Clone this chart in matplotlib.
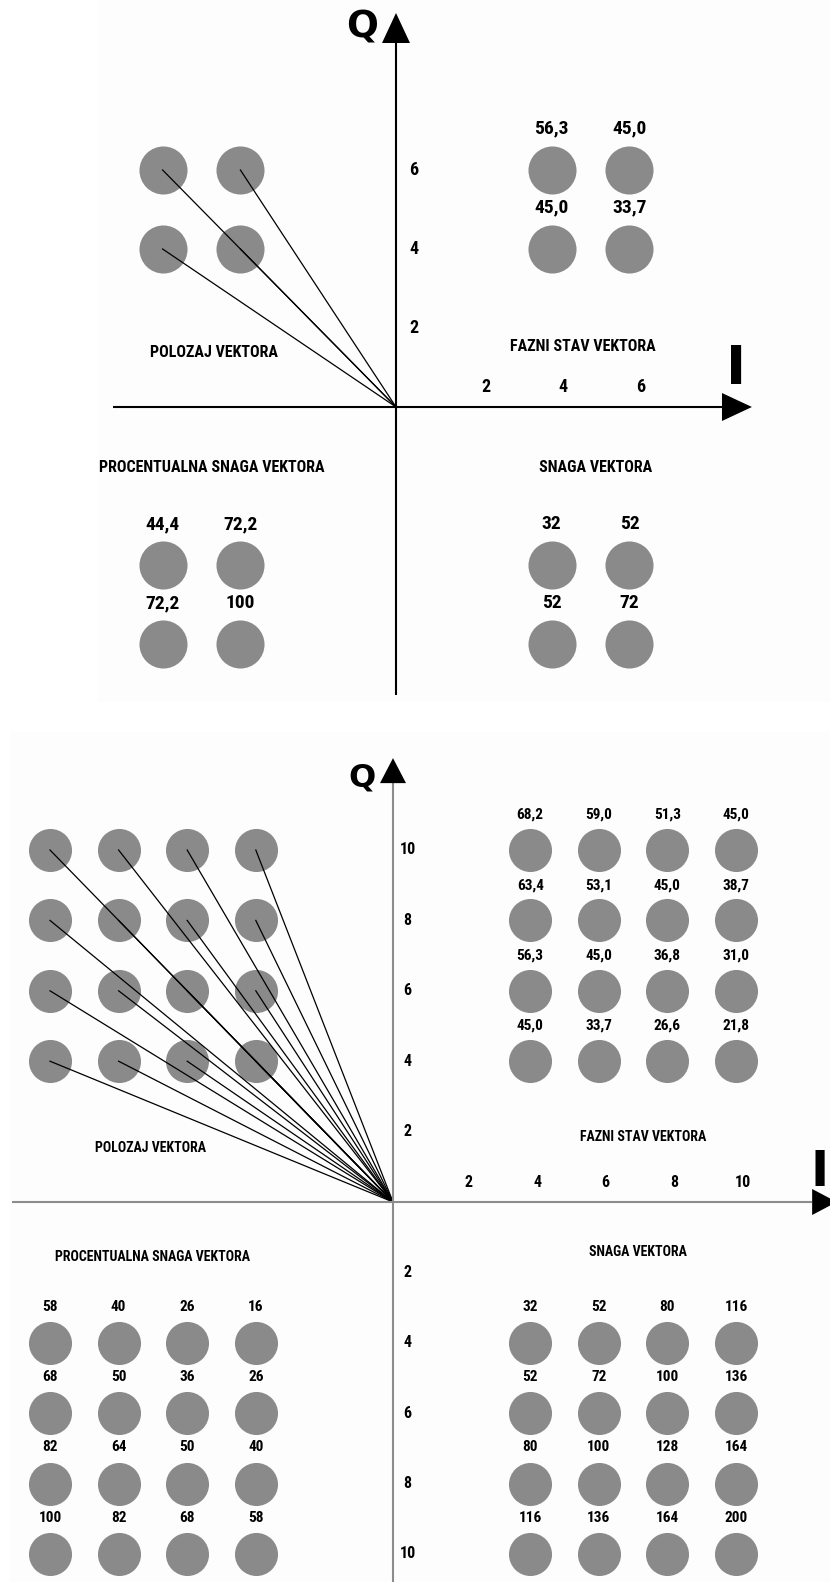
import matplotlib
matplotlib.use("Agg")
import matplotlib.pyplot as plt
from matplotlib.patches import Rectangle

COND = ['Liberation Sans Narrow', 'Roboto Condensed', 'DejaVu Sans Condensed',
        'Noto Sans Condensed', 'Open Sans Condensed', 'DejaVu Sans']
BOLD = ['DejaVu Sans']

# ---------------- data: panel 1 (2 x 2) ----------------
p1_I = [4, 6]                 # |I| of the circle columns
p1_Q = [6, 4]                 # |Q| of the circle rows (top to bottom)
p1_phase = [["56,3", "45,0"],
            ["45,0", "33,7"]]          # quadrant I, rows Q=6,4 ; cols I=4,6
p1_power = [["32", "52"],
            ["52", "72"]]              # quadrant IV, rows Q=-4,-6 ; cols I=4,6
p1_percent = [["44,4", "72,2"],
              ["72,2", "100"]]         # quadrant III, rows Q=-4,-6 ; cols I=-6,-4
p1_ticks = [2, 4, 6]

# ---------------- data: panel 2 (4 x 4) ----------------
p2_I = [4, 6, 8, 10]
p2_Q = [10, 8, 6, 4]
p2_phase = [["68,2", "59,0", "51,3", "45,0"],
            ["63,4", "53,1", "45,0", "38,7"],
            ["56,3", "45,0", "36,8", "31,0"],
            ["45,0", "33,7", "26,6", "21,8"]]     # rows Q=10..4 ; cols I=4..10
p2_power = [["32", "52", "80", "116"],
            ["52", "72", "100", "136"],
            ["80", "100", "128", "164"],
            ["116", "136", "164", "200"]]        # rows Q=-4..-10 ; cols I=4..10
p2_percent = [["58", "40", "26", "16"],
              ["68", "50", "36", "26"],
              ["82", "64", "50", "40"],
              ["100", "82", "68", "58"]]         # rows Q=-4..-10 ; cols I=-10..-4
p2_xticks = [2, 4, 6, 8, 10]
p2_yticks = [10, 8, 6, 4, 2]
p2_nyticks = [2, 4, 6, 8, 10]

W, H = 830, 1582
fig = plt.figure(figsize=(W / 100, H / 100), dpi=100)
fig.patch.set_facecolor('white')

CIRC = '#8a8a8a'
BG = '#fdfdfd'


def make_axes(top_px, bot_px, ox, oy, sx, sy):
    ax = fig.add_axes([0, 1 - bot_px / H, 1, (bot_px - top_px) / H])
    ax.set_xlim(-ox / sx, (W - ox) / sx)
    ax.set_ylim(-(bot_px - oy) / sy, (oy - top_px) / sy)
    ax.axis('off')
    return ax


def draw_axes(ax, sx, sy, x0, xbase, xtip, y0, ybase, ytip, hw, color, lw):
    ax.plot([x0, xbase], [0, 0], color=color, lw=lw, zorder=4, solid_capstyle='butt')
    ax.plot([0, 0], [y0, ybase], color=color, lw=lw, zorder=4, solid_capstyle='butt')
    ax.fill([xbase, xtip, xbase], [-hw / sy, 0, hw / sy], color='black', zorder=5, lw=0)
    ax.fill([-hw / sx, 0, hw / sx], [ybase, ytip, ybase], color='black', zorder=5, lw=0)


def grid_pts(cols, rows):
    return [(c, r) for r in rows for c in cols]


def label(ax, x, y, s, fs):
    ax.text(x, y, s, ha='center', va='center', fontsize=fs, fontweight='bold', family=COND)


# =============== PANEL 1 ===============
ox1, oy1, sx1, sy1 = 396, 407, 38.9, 39.5
ax1 = make_axes(0, 705, ox1, oy1, sx1, sy1)
ax1.add_patch(Rectangle(((98 - ox1) / sx1, -(702 - oy1) / sy1), (W - 98) / sx1, 702 / sy1,
                        facecolor=BG, edgecolor='none', zorder=0))
draw_axes(ax1, sx1, sy1, -7.275, 8.38, 9.15, -7.29, 9.215, 9.975, 14, 'black', 1.5)

s1 = 34.6 ** 2
fs1 = 14
pts = grid_pts([-i for i in p1_I[::-1]], p1_Q)
ax1.scatter([p[0] for p in pts], [p[1] for p in pts], s=s1, color=CIRC, lw=0, zorder=1)
for (x, y) in pts:
    ax1.plot([0, x], [0, y], color='black', lw=0.9, zorder=3)
for r, q in enumerate(p1_Q):
    for c, i in enumerate(p1_I):
        ax1.scatter([i], [q], s=s1, color=CIRC, lw=0, zorder=1)
        label(ax1, i, q + 1.05, p1_phase[r][c], fs1)
for r, q in enumerate(p1_Q[::-1]):
    for c, i in enumerate(p1_I):
        ax1.scatter([i], [-q], s=s1, color=CIRC, lw=0, zorder=1)
        label(ax1, i, -q + 1.03, p1_power[r][c], fs1)
for r, q in enumerate(p1_Q[::-1]):
    for c, i in enumerate(p1_I[::-1]):
        ax1.scatter([-i], [-q], s=s1, color=CIRC, lw=0, zorder=1)
        label(ax1, -i, -q + 1.03, p1_percent[r][c], fs1)
for t in p1_ticks:
    label(ax1, t + 0.3, 0.5, str(t), 13)
    label(ax1, 0.45, t, str(t), 13)
tfs1 = 11.5
label(ax1, -4.68, 1.37, 'POLOZAJ VEKTORA', tfs1)
label(ax1, 4.81, 1.52, 'FAZNI STAV VEKTORA', tfs1)
label(ax1, -4.73, -1.52, 'PROCENTUALNA SNAGA VEKTORA', tfs1)
label(ax1, 5.12, -1.52, 'SNAGA VEKTORA', tfs1)
ax1.text(-0.87, 9.6, 'Q', ha='center', va='center', fontsize=27, fontweight='bold', family=BOLD)
ax1.text(8.73, 0.95, 'I', ha='center', va='center', fontsize=39, fontweight='bold', family=BOLD)

# =============== PANEL 2 ===============
ox2, oy2, sx2, sy2 = 393, 1202, 34.3, 35.2
ax2 = make_axes(705, 1582, ox2, oy2, sx2, sy2)
ax2.add_patch(Rectangle(((10 - ox2) / sx2, -(1582 - oy2) / sy2), (W - 10) / sx2, (1582 - 732) / sy2,
                        facecolor=BG, edgecolor='none', zorder=0))
draw_axes(ax2, sx2, sy2, -11.1, 12.22, 12.94, -11.0, 11.9, 12.61, 13, '#8c8c8c', 1.5)

s2 = 31.0 ** 2
fs2 = 11
pts = grid_pts([-i for i in p2_I[::-1]], p2_Q)
ax2.scatter([p[0] for p in pts], [p[1] for p in pts], s=s2, color=CIRC, lw=0, zorder=1)
for (x, y) in pts:
    ax2.plot([0, x], [0, y], color='black', lw=0.9, zorder=3)
for r, q in enumerate(p2_Q):
    for c, i in enumerate(p2_I):
        ax2.scatter([i], [q], s=s2, color=CIRC, lw=0, zorder=1)
        label(ax2, i, q + 1.0, p2_phase[r][c], fs2)
for r, q in enumerate(p2_Q[::-1]):
    for c, i in enumerate(p2_I):
        ax2.scatter([i], [-q], s=s2, color=CIRC, lw=0, zorder=1)
        label(ax2, i, -q + 1.03, p2_power[r][c], fs2)
for r, q in enumerate(p2_Q[::-1]):
    for c, i in enumerate(p2_I[::-1]):
        ax2.scatter([-i], [-q], s=s2, color=CIRC, lw=0, zorder=1)
        label(ax2, -i, -q + 1.03, p2_percent[r][c], fs2)
for t in p2_xticks:
    label(ax2, t + 0.2, 0.54, str(t), 11.5)
for t in p2_yticks:
    label(ax2, 0.43, t, str(t), 11.5)
for t in p2_nyticks:
    label(ax2, 0.43, -t, str(t), 11.5)
tfs2 = 10
label(ax2, -7.06, 1.53, 'POLOZAJ VEKTORA', tfs2)
label(ax2, 7.29, 1.85, 'FAZNI STAV VEKTORA', tfs2)
label(ax2, -7.0, -1.56, 'PROCENTUALNA SNAGA VEKTORA', tfs2)
label(ax2, 7.14, -1.42, 'SNAGA VEKTORA', tfs2)
ax2.text(-0.9, 12.05, 'Q', ha='center', va='center', fontsize=23, fontweight='bold', family=BOLD)
ax2.text((828.5 - ox2) / sx2, 0.86, 'I', ha='right', va='center', fontsize=35,
         fontweight='bold', family=BOLD)

fig.savefig('out.png', dpi=100, facecolor='white')
